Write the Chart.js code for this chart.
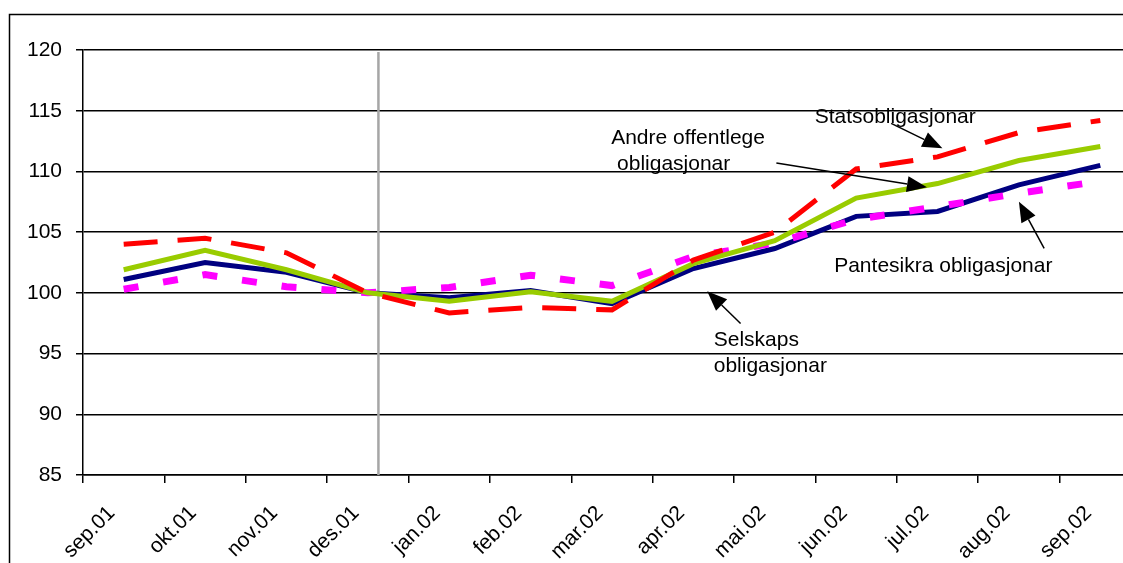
<!DOCTYPE html>
<html lang="nn">
<head>
    <meta charset="UTF-8">
    <title>Obligasjonsindeksar</title>
    <script src="https://cdn.jsdelivr.net/npm/chart.js"></script>
    <style>
        html, body {
            margin: 0;
            padding: 0;
            background: white;
            overflow: hidden;
        }
        #wrap {
            position: absolute;
            left: 0;
            top: 0;
            width: 1160px;
            height: 600px;
        }
    </style>
</head>
<body>

<div id="wrap"><canvas id="bondChart"></canvas></div>

<script>
    // months on the category axis
    const months = ['sep.01', 'okt.01', 'nov.01', 'des.01', 'jan.02', 'feb.02', 'mar.02',
                    'apr.02', 'mai.02', 'jun.02', 'jul.02', 'aug.02', 'sep.02'];

    // index values (des.01 = 100)
    const statsobligasjonar = [104.0, 104.5, 103.3, 100.0, 98.35, 98.8, 98.6, 102.7, 105.0, 110.2, 111.2, 113.2, 114.2];
    const andreOffentlege   = [101.9, 103.5, 101.9, 100.0, 99.3, 100.1, 99.3, 102.4, 104.3, 107.8, 109.0, 110.9, 112.05];
    const pantesikra        = [100.3, 101.5, 100.5, 100.0, 100.45, 101.45, 100.6, 103.0, 104.1, 106.05, 107.1, 108.2, 109.2];
    const selskaps          = [101.1, 102.5, 101.7, 100.0, 99.6, 100.2, 99.1, 102.0, 103.65, 106.3, 106.7, 108.9, 110.5];

    // y axis range and step
    const yMin = 85;
    const yMax = 120;
    const yStep = 5;

    const FONT = "'Liberation Sans', Arial, sans-serif";

    // grey marker line (category position) and the arrow labels (category index, value)
    const markerAt = 3.13;
    const notes = [
        { lines: ['Statsobligasjonar'], x: 8.49, y: 114.0, from: [9.43, 113.96], to: [10.06, 111.9] },
        { lines: ['Andre offentlege', ' obligasjonar'], x: 5.99, y: 112.3, from: [8.02, 110.7], to: [9.87, 108.7] },
        { lines: ['Pantesikra obligasjonar'], x: 8.73, y: 101.7, from: [11.31, 103.66], to: [11.0, 107.5] },
        { lines: ['Selskaps', 'obligasjonar'], x: 7.25, y: 95.6, from: [7.58, 97.48], to: [7.17, 100.14] }
    ];

    document.addEventListener('DOMContentLoaded', function () {
        createBondChart();
    });

    function drawArrow(ctx, x1, y1, x2, y2) {
        const ang = Math.atan2(y2 - y1, x2 - x1);
        const len = 20, half = 8;
        const bx = x2 - len * Math.cos(ang);
        const by = y2 - len * Math.sin(ang);
        ctx.beginPath();
        ctx.moveTo(x1, y1);
        ctx.lineTo(bx, by);
        ctx.stroke();
        ctx.beginPath();
        ctx.moveTo(x2, y2);
        ctx.lineTo(bx + half * Math.sin(ang), by - half * Math.cos(ang));
        ctx.lineTo(bx - half * Math.sin(ang), by + half * Math.cos(ang));
        ctx.closePath();
        ctx.fill();
    }

    const framePlugin = {
        id: 'frame',
        beforeDraw(chart) {
            const ctx = chart.ctx;
            ctx.save();
            ctx.strokeStyle = '#000';
            ctx.lineWidth = 1.5;
            ctx.strokeRect(9.5, 14.5, chart.width + 50, chart.height + 50);
            ctx.restore();
        },
        beforeDatasetsDraw(chart) {
            const { ctx, chartArea, scales } = chart;
            const x = scales.x.getPixelForValue(markerAt);
            ctx.save();
            ctx.strokeStyle = '#a6a6a6';
            ctx.lineWidth = 2.5;
            ctx.beginPath();
            ctx.moveTo(x, chartArea.top + 2);
            ctx.lineTo(x, chartArea.bottom);
            ctx.stroke();
            ctx.restore();
        },
        afterDatasetsDraw(chart) {
            const { ctx, scales } = chart;
            const sx = scales.x, sy = scales.y;
            ctx.save();
            ctx.fillStyle = '#000';
            ctx.strokeStyle = '#000';
            ctx.lineWidth = 1.5;
            ctx.font = '21px ' + FONT;
            ctx.textAlign = 'left';
            ctx.textBaseline = 'alphabetic';
            notes.forEach(n => {
                const tx = sx.getPixelForValue(n.x);
                const ty = sy.getPixelForValue(n.y);
                n.lines.forEach((line, i) => ctx.fillText(line, tx, ty + i * 26));
                drawArrow(ctx,
                    sx.getPixelForValue(n.from[0]), sy.getPixelForValue(n.from[1]),
                    sx.getPixelForValue(n.to[0]), sy.getPixelForValue(n.to[1]));
            });
            ctx.restore();
        }
    };

    function createBondChart() {
        const ctx = document.getElementById('bondChart').getContext('2d');

        const data = {
            labels: months,
            datasets: [
                {
                    label: 'Statsobligasjonar',
                    data: statsobligasjonar,
                    borderColor: '#ff0000',
                    borderWidth: 5,
                    borderDash: [34, 20],
                    order: 1
                },
                {
                    label: 'Andre offentlege obligasjonar',
                    data: andreOffentlege,
                    borderColor: '#99cc00',
                    borderWidth: 5,
                    order: 2
                },
                {
                    label: 'Pantesikra obligasjonar',
                    data: pantesikra,
                    borderColor: '#ff00ff',
                    borderWidth: 7,
                    borderDash: [15, 25],
                    order: 3
                },
                {
                    label: 'Selskaps obligasjonar',
                    data: selskaps,
                    borderColor: '#000080',
                    borderWidth: 5,
                    order: 4
                }
            ]
        };

        const options = {
            responsive: true,
            maintainAspectRatio: false,
            animation: false,
            layout: {
                padding: { left: 0, top: 50, right: 19, bottom: 0 }
            },
            elements: {
                point: { radius: 0 },
                line: { tension: 0, fill: false, borderCapStyle: 'butt', borderJoinStyle: 'miter' }
            },
            scales: {
                x: {
                    offset: true,
                    border: { color: '#000', width: 1.5 },
                    grid: {
                        offset: true,
                        drawOnChartArea: false,
                        tickLength: 8,
                        color: '#000',
                        lineWidth: 1.5
                    },
                    ticks: {
                        autoSkip: false,
                        minRotation: 45,
                        maxRotation: 45,
                        padding: 18,
                        labelOffset: -12,
                        color: '#000',
                        font: { family: FONT, size: 21 }
                    },
                    afterFit(scale) {
                        scale.height = 125;
                    }
                },
                y: {
                    min: yMin,
                    max: yMax,
                    border: { color: '#000', width: 1.5 },
                    grid: {
                        color: '#000',
                        lineWidth: 1.5,
                        tickLength: 7
                    },
                    ticks: {
                        stepSize: yStep,
                        padding: 14,
                        color: '#000',
                        font: { family: FONT, size: 21 }
                    },
                    afterFit(scale) {
                        scale.width = 83;
                    }
                }
            },
            plugins: {
                legend: { display: false },
                tooltip: { enabled: false }
            }
        };

        new Chart(ctx, {
            type: 'line',
            data: data,
            options: options,
            plugins: [framePlugin]
        });
    }
</script>

</body>
</html>
